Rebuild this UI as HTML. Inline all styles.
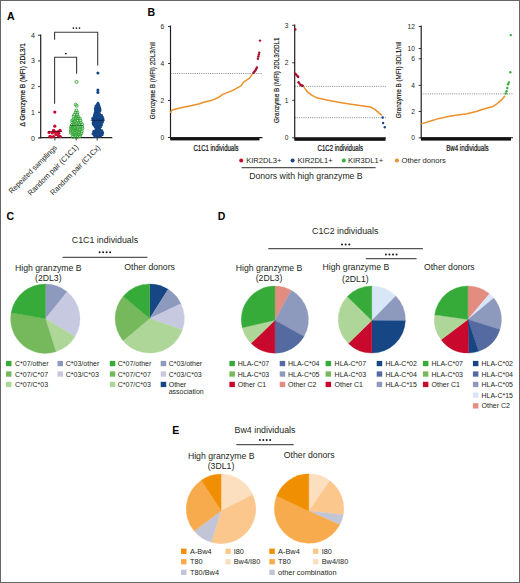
<!DOCTYPE html>
<html><head><meta charset="utf-8"><style>
html,body{margin:0;padding:0;background:#fff;}
body{width:520px;height:583px;overflow:hidden;font-family:"Liberation Sans", sans-serif;}
svg{display:block;}
</style></head><body>
<svg width="520" height="583" viewBox="0 0 520 583" font-family='"Liberation Sans", sans-serif'>
<rect x="0" y="0" width="520" height="583" fill="#fff"/>
<text x="7" y="20" font-size="10.5" text-anchor="start" font-weight="bold" fill="#000" >A</text>
<line x1="40.7" y1="34.5" x2="40.7" y2="138.3" stroke="#231f20" stroke-width="1.2" />
<line x1="39.5" y1="137.7" x2="112.3" y2="137.7" stroke="#231f20" stroke-width="1.3" />
<line x1="38" y1="138.0" x2="40.5" y2="138.0" stroke="#231f20" stroke-width="0.9" />
<text x="34.8" y="140.5" font-size="7.0" text-anchor="end" font-weight="normal" fill="#231f20" >0</text>
<line x1="38" y1="112.3" x2="40.5" y2="112.3" stroke="#231f20" stroke-width="0.9" />
<text x="34.8" y="114.8" font-size="7.0" text-anchor="end" font-weight="normal" fill="#231f20" >1</text>
<line x1="38" y1="86.6" x2="40.5" y2="86.6" stroke="#231f20" stroke-width="0.9" />
<text x="34.8" y="89.1" font-size="7.0" text-anchor="end" font-weight="normal" fill="#231f20" >2</text>
<line x1="38" y1="60.900000000000006" x2="40.5" y2="60.900000000000006" stroke="#231f20" stroke-width="0.9" />
<text x="34.8" y="63.400000000000006" font-size="7.0" text-anchor="end" font-weight="normal" fill="#231f20" >3</text>
<line x1="38" y1="35.2" x2="40.5" y2="35.2" stroke="#231f20" stroke-width="0.9" />
<text x="34.8" y="37.7" font-size="7.0" text-anchor="end" font-weight="normal" fill="#231f20" >4</text>
<line x1="54.9" y1="138.0" x2="54.9" y2="140.5" stroke="#231f20" stroke-width="0.9" />
<line x1="76.2" y1="138.0" x2="76.2" y2="140.5" stroke="#231f20" stroke-width="0.9" />
<line x1="97.2" y1="138.0" x2="97.2" y2="140.5" stroke="#231f20" stroke-width="0.9" />
<text transform="translate(25.2,84.7) rotate(-90)" font-size="7.7" text-anchor="middle" fill="#111" stroke="#111" stroke-width="0.2" textLength="83.5" lengthAdjust="spacingAndGlyphs">Δ Granzyme B (MFI) 2DL3/1</text>
<polyline points="54.6,39.8 54.6,32.3 97.7,32.3 97.7,65.4" fill="none" stroke="#3b3b3b" stroke-width="1.1"/>
<polyline points="54.6,103.8 54.6,57.2 76.6,57.2 76.6,73.8" fill="none" stroke="#3b3b3b" stroke-width="1.1"/>
<circle cx="73.40" cy="28.1" r="0.85" fill="#1a1a1a"/>
<circle cx="76.45" cy="28.1" r="0.85" fill="#1a1a1a"/>
<circle cx="79.50" cy="28.1" r="0.85" fill="#1a1a1a"/>
<circle cx="65.80" cy="53.6" r="0.9" fill="#1a1a1a"/>
<text transform="translate(57.6,148.2) rotate(-45)" font-size="7.7" text-anchor="end" fill="#231f20" textLength="64.8" lengthAdjust="spacingAndGlyphs">Repeated samplings</text>
<text transform="translate(79.0,147.8) rotate(-45)" font-size="7.7" text-anchor="end" fill="#231f20" textLength="68.2" lengthAdjust="spacingAndGlyphs">Random pair (C1C1)</text>
<text transform="translate(100.8,148.2) rotate(-45)" font-size="7.7" text-anchor="end" fill="#231f20" textLength="67.2" lengthAdjust="spacingAndGlyphs">Random pair (C1Cx)</text>
<circle cx="54.8" cy="112.1" r="1.6" fill="#c8082c"/>
<circle cx="54.8" cy="126.2" r="1.6" fill="#c8082c"/>
<circle cx="53.6" cy="130.3" r="1.6" fill="#c8082c"/>
<circle cx="60" cy="130.3" r="1.6" fill="#c8082c"/>
<circle cx="49.1" cy="132.4" r="1.6" fill="#c8082c"/>
<circle cx="52.4" cy="133" r="1.6" fill="#c8082c"/>
<circle cx="56" cy="134.5" r="1.6" fill="#c8082c"/>
<circle cx="50" cy="136.3" r="1.6" fill="#c8082c"/>
<circle cx="53.6" cy="136.5" r="1.6" fill="#c8082c"/>
<circle cx="58.5" cy="135.7" r="1.6" fill="#c8082c"/>
<circle cx="60.3" cy="136.5" r="1.6" fill="#c8082c"/>
<circle cx="51.2" cy="137" r="1.6" fill="#c8082c"/>
<circle cx="57.5" cy="131.8" r="1.6" fill="#c8082c"/>
<circle cx="55" cy="132.2" r="1.6" fill="#c8082c"/>
<circle cx="58.8" cy="133.3" r="1.6" fill="#c8082c"/>
<line x1="48.2" y1="131.5" x2="62.1" y2="131.5" stroke="#5a0a18" stroke-width="0.8" />
<circle cx="76.34" cy="110.38" r="1.4" fill="none" stroke="#30a534" stroke-width="0.95"/>
<circle cx="75.63" cy="112.29" r="1.4" fill="none" stroke="#30a534" stroke-width="0.95"/>
<circle cx="77.43" cy="112.64" r="1.4" fill="none" stroke="#30a534" stroke-width="0.95"/>
<circle cx="74.27" cy="114.81" r="1.4" fill="none" stroke="#30a534" stroke-width="0.95"/>
<circle cx="77.23" cy="114.72" r="1.4" fill="none" stroke="#30a534" stroke-width="0.95"/>
<circle cx="73.60" cy="116.31" r="1.4" fill="none" stroke="#30a534" stroke-width="0.95"/>
<circle cx="76.24" cy="117.19" r="1.4" fill="none" stroke="#30a534" stroke-width="0.95"/>
<circle cx="78.09" cy="116.47" r="1.4" fill="none" stroke="#30a534" stroke-width="0.95"/>
<circle cx="73.57" cy="119.34" r="1.4" fill="none" stroke="#30a534" stroke-width="0.95"/>
<circle cx="75.52" cy="118.68" r="1.4" fill="none" stroke="#30a534" stroke-width="0.95"/>
<circle cx="78.01" cy="118.26" r="1.4" fill="none" stroke="#30a534" stroke-width="0.95"/>
<circle cx="79.88" cy="118.55" r="1.4" fill="none" stroke="#30a534" stroke-width="0.95"/>
<circle cx="72.31" cy="120.34" r="1.4" fill="none" stroke="#30a534" stroke-width="0.95"/>
<circle cx="75.02" cy="121.18" r="1.4" fill="none" stroke="#30a534" stroke-width="0.95"/>
<circle cx="77.37" cy="120.90" r="1.4" fill="none" stroke="#30a534" stroke-width="0.95"/>
<circle cx="80.43" cy="120.65" r="1.4" fill="none" stroke="#30a534" stroke-width="0.95"/>
<circle cx="72.14" cy="122.28" r="1.4" fill="none" stroke="#30a534" stroke-width="0.95"/>
<circle cx="73.76" cy="122.45" r="1.4" fill="none" stroke="#30a534" stroke-width="0.95"/>
<circle cx="76.72" cy="122.71" r="1.4" fill="none" stroke="#30a534" stroke-width="0.95"/>
<circle cx="78.48" cy="122.90" r="1.4" fill="none" stroke="#30a534" stroke-width="0.95"/>
<circle cx="80.86" cy="122.56" r="1.4" fill="none" stroke="#30a534" stroke-width="0.95"/>
<circle cx="71.82" cy="125.04" r="1.4" fill="none" stroke="#30a534" stroke-width="0.95"/>
<circle cx="73.68" cy="124.89" r="1.4" fill="none" stroke="#30a534" stroke-width="0.95"/>
<circle cx="76.53" cy="125.25" r="1.4" fill="none" stroke="#30a534" stroke-width="0.95"/>
<circle cx="79.29" cy="124.55" r="1.4" fill="none" stroke="#30a534" stroke-width="0.95"/>
<circle cx="82.11" cy="124.34" r="1.4" fill="none" stroke="#30a534" stroke-width="0.95"/>
<circle cx="71.07" cy="127.11" r="1.4" fill="none" stroke="#30a534" stroke-width="0.95"/>
<circle cx="72.88" cy="126.79" r="1.4" fill="none" stroke="#30a534" stroke-width="0.95"/>
<circle cx="74.88" cy="127.00" r="1.4" fill="none" stroke="#30a534" stroke-width="0.95"/>
<circle cx="77.88" cy="126.89" r="1.4" fill="none" stroke="#30a534" stroke-width="0.95"/>
<circle cx="80.15" cy="126.58" r="1.4" fill="none" stroke="#30a534" stroke-width="0.95"/>
<circle cx="82.07" cy="126.91" r="1.4" fill="none" stroke="#30a534" stroke-width="0.95"/>
<circle cx="70.96" cy="128.75" r="1.4" fill="none" stroke="#30a534" stroke-width="0.95"/>
<circle cx="73.52" cy="129.33" r="1.4" fill="none" stroke="#30a534" stroke-width="0.95"/>
<circle cx="75.34" cy="129.00" r="1.4" fill="none" stroke="#30a534" stroke-width="0.95"/>
<circle cx="77.10" cy="129.04" r="1.4" fill="none" stroke="#30a534" stroke-width="0.95"/>
<circle cx="80.06" cy="129.39" r="1.4" fill="none" stroke="#30a534" stroke-width="0.95"/>
<circle cx="82.53" cy="128.54" r="1.4" fill="none" stroke="#30a534" stroke-width="0.95"/>
<circle cx="70.91" cy="131.00" r="1.4" fill="none" stroke="#30a534" stroke-width="0.95"/>
<circle cx="72.65" cy="130.75" r="1.4" fill="none" stroke="#30a534" stroke-width="0.95"/>
<circle cx="75.01" cy="130.34" r="1.4" fill="none" stroke="#30a534" stroke-width="0.95"/>
<circle cx="77.06" cy="131.12" r="1.4" fill="none" stroke="#30a534" stroke-width="0.95"/>
<circle cx="79.33" cy="130.50" r="1.4" fill="none" stroke="#30a534" stroke-width="0.95"/>
<circle cx="81.83" cy="131.25" r="1.4" fill="none" stroke="#30a534" stroke-width="0.95"/>
<circle cx="70.84" cy="132.74" r="1.4" fill="none" stroke="#30a534" stroke-width="0.95"/>
<circle cx="73.98" cy="133.26" r="1.4" fill="none" stroke="#30a534" stroke-width="0.95"/>
<circle cx="76.88" cy="133.24" r="1.4" fill="none" stroke="#30a534" stroke-width="0.95"/>
<circle cx="78.81" cy="132.70" r="1.4" fill="none" stroke="#30a534" stroke-width="0.95"/>
<circle cx="81.48" cy="133.26" r="1.4" fill="none" stroke="#30a534" stroke-width="0.95"/>
<circle cx="72.52" cy="134.38" r="1.4" fill="none" stroke="#30a534" stroke-width="0.95"/>
<circle cx="73.81" cy="134.48" r="1.4" fill="none" stroke="#30a534" stroke-width="0.95"/>
<circle cx="76.10" cy="134.78" r="1.4" fill="none" stroke="#30a534" stroke-width="0.95"/>
<circle cx="78.76" cy="134.52" r="1.4" fill="none" stroke="#30a534" stroke-width="0.95"/>
<circle cx="80.28" cy="134.70" r="1.4" fill="none" stroke="#30a534" stroke-width="0.95"/>
<circle cx="72.75" cy="136.88" r="1.4" fill="none" stroke="#30a534" stroke-width="0.95"/>
<circle cx="75.69" cy="137.03" r="1.4" fill="none" stroke="#30a534" stroke-width="0.95"/>
<circle cx="77.40" cy="136.94" r="1.4" fill="none" stroke="#30a534" stroke-width="0.95"/>
<circle cx="79.84" cy="136.26" r="1.4" fill="none" stroke="#30a534" stroke-width="0.95"/>
<circle cx="76.5" cy="81.9" r="1.5" fill="none" stroke="#33a833" stroke-width="0.9"/>
<circle cx="75.7" cy="104.6" r="1.5" fill="none" stroke="#33a833" stroke-width="0.9"/>
<circle cx="76.6" cy="105.8" r="1.5" fill="none" stroke="#33a833" stroke-width="0.9"/>
<line x1="69.6" y1="125.3" x2="83.5" y2="125.3" stroke="#1f5e1f" stroke-width="0.8" />
<circle cx="98.03" cy="103.00" r="1.3" fill="#164684"/>
<circle cx="97.23" cy="104.41" r="1.3" fill="#164684"/>
<circle cx="98.40" cy="104.13" r="1.3" fill="#164684"/>
<circle cx="96.08" cy="105.69" r="1.3" fill="#164684"/>
<circle cx="97.39" cy="105.30" r="1.3" fill="#164684"/>
<circle cx="98.84" cy="105.36" r="1.3" fill="#164684"/>
<circle cx="95.69" cy="106.69" r="1.3" fill="#164684"/>
<circle cx="97.35" cy="106.76" r="1.3" fill="#164684"/>
<circle cx="99.32" cy="106.90" r="1.3" fill="#164684"/>
<circle cx="95.13" cy="108.66" r="1.3" fill="#164684"/>
<circle cx="97.04" cy="108.15" r="1.3" fill="#164684"/>
<circle cx="98.29" cy="108.29" r="1.3" fill="#164684"/>
<circle cx="99.87" cy="108.14" r="1.3" fill="#164684"/>
<circle cx="95.50" cy="110.15" r="1.3" fill="#164684"/>
<circle cx="96.88" cy="109.79" r="1.3" fill="#164684"/>
<circle cx="98.27" cy="109.52" r="1.3" fill="#164684"/>
<circle cx="100.11" cy="109.64" r="1.3" fill="#164684"/>
<circle cx="95.29" cy="110.96" r="1.3" fill="#164684"/>
<circle cx="96.43" cy="111.52" r="1.3" fill="#164684"/>
<circle cx="98.50" cy="110.95" r="1.3" fill="#164684"/>
<circle cx="100.22" cy="110.87" r="1.3" fill="#164684"/>
<circle cx="94.92" cy="112.93" r="1.3" fill="#164684"/>
<circle cx="96.68" cy="112.74" r="1.3" fill="#164684"/>
<circle cx="97.78" cy="112.51" r="1.3" fill="#164684"/>
<circle cx="99.23" cy="112.79" r="1.3" fill="#164684"/>
<circle cx="94.62" cy="114.20" r="1.3" fill="#164684"/>
<circle cx="96.15" cy="113.81" r="1.3" fill="#164684"/>
<circle cx="98.15" cy="114.34" r="1.3" fill="#164684"/>
<circle cx="99.85" cy="114.21" r="1.3" fill="#164684"/>
<circle cx="94.26" cy="115.57" r="1.3" fill="#164684"/>
<circle cx="95.30" cy="115.41" r="1.3" fill="#164684"/>
<circle cx="96.83" cy="115.07" r="1.3" fill="#164684"/>
<circle cx="98.05" cy="115.25" r="1.3" fill="#164684"/>
<circle cx="99.66" cy="115.53" r="1.3" fill="#164684"/>
<circle cx="101.60" cy="115.36" r="1.3" fill="#164684"/>
<circle cx="93.79" cy="117.14" r="1.3" fill="#164684"/>
<circle cx="95.29" cy="116.71" r="1.3" fill="#164684"/>
<circle cx="96.26" cy="116.61" r="1.3" fill="#164684"/>
<circle cx="97.74" cy="116.59" r="1.3" fill="#164684"/>
<circle cx="99.52" cy="117.08" r="1.3" fill="#164684"/>
<circle cx="101.16" cy="116.79" r="1.3" fill="#164684"/>
<circle cx="102.52" cy="117.01" r="1.3" fill="#164684"/>
<circle cx="92.63" cy="118.31" r="1.3" fill="#164684"/>
<circle cx="94.91" cy="118.40" r="1.3" fill="#164684"/>
<circle cx="96.50" cy="118.18" r="1.3" fill="#164684"/>
<circle cx="97.81" cy="118.40" r="1.3" fill="#164684"/>
<circle cx="99.62" cy="118.41" r="1.3" fill="#164684"/>
<circle cx="101.77" cy="118.13" r="1.3" fill="#164684"/>
<circle cx="103.07" cy="118.51" r="1.3" fill="#164684"/>
<circle cx="93.03" cy="119.37" r="1.3" fill="#164684"/>
<circle cx="94.32" cy="119.36" r="1.3" fill="#164684"/>
<circle cx="96.57" cy="119.81" r="1.3" fill="#164684"/>
<circle cx="97.75" cy="119.83" r="1.3" fill="#164684"/>
<circle cx="100.04" cy="119.71" r="1.3" fill="#164684"/>
<circle cx="101.30" cy="119.63" r="1.3" fill="#164684"/>
<circle cx="102.86" cy="119.26" r="1.3" fill="#164684"/>
<circle cx="93.30" cy="121.10" r="1.3" fill="#164684"/>
<circle cx="94.64" cy="121.30" r="1.3" fill="#164684"/>
<circle cx="96.23" cy="121.26" r="1.3" fill="#164684"/>
<circle cx="98.15" cy="120.80" r="1.3" fill="#164684"/>
<circle cx="99.40" cy="120.86" r="1.3" fill="#164684"/>
<circle cx="101.05" cy="121.06" r="1.3" fill="#164684"/>
<circle cx="102.71" cy="120.94" r="1.3" fill="#164684"/>
<circle cx="92.92" cy="122.69" r="1.3" fill="#164684"/>
<circle cx="94.62" cy="122.37" r="1.3" fill="#164684"/>
<circle cx="96.33" cy="122.68" r="1.3" fill="#164684"/>
<circle cx="97.77" cy="122.69" r="1.3" fill="#164684"/>
<circle cx="99.38" cy="122.42" r="1.3" fill="#164684"/>
<circle cx="100.95" cy="122.06" r="1.3" fill="#164684"/>
<circle cx="102.44" cy="122.18" r="1.3" fill="#164684"/>
<circle cx="93.10" cy="124.01" r="1.3" fill="#164684"/>
<circle cx="94.92" cy="123.78" r="1.3" fill="#164684"/>
<circle cx="97.02" cy="123.84" r="1.3" fill="#164684"/>
<circle cx="98.45" cy="123.81" r="1.3" fill="#164684"/>
<circle cx="100.31" cy="124.00" r="1.3" fill="#164684"/>
<circle cx="101.71" cy="123.84" r="1.3" fill="#164684"/>
<circle cx="93.78" cy="125.04" r="1.3" fill="#164684"/>
<circle cx="95.63" cy="125.21" r="1.3" fill="#164684"/>
<circle cx="96.97" cy="125.38" r="1.3" fill="#164684"/>
<circle cx="98.70" cy="125.16" r="1.3" fill="#164684"/>
<circle cx="99.98" cy="125.20" r="1.3" fill="#164684"/>
<circle cx="101.40" cy="125.33" r="1.3" fill="#164684"/>
<circle cx="94.75" cy="126.62" r="1.3" fill="#164684"/>
<circle cx="96.24" cy="126.91" r="1.3" fill="#164684"/>
<circle cx="97.86" cy="126.86" r="1.3" fill="#164684"/>
<circle cx="99.50" cy="126.43" r="1.3" fill="#164684"/>
<circle cx="100.70" cy="126.91" r="1.3" fill="#164684"/>
<circle cx="95.70" cy="127.75" r="1.3" fill="#164684"/>
<circle cx="96.71" cy="127.96" r="1.3" fill="#164684"/>
<circle cx="98.19" cy="127.82" r="1.3" fill="#164684"/>
<circle cx="99.71" cy="128.12" r="1.3" fill="#164684"/>
<circle cx="95.89" cy="129.68" r="1.3" fill="#164684"/>
<circle cx="96.82" cy="129.55" r="1.3" fill="#164684"/>
<circle cx="98.55" cy="129.15" r="1.3" fill="#164684"/>
<circle cx="100.08" cy="129.73" r="1.3" fill="#164684"/>
<circle cx="94.01" cy="131.12" r="1.3" fill="#164684"/>
<circle cx="95.70" cy="130.79" r="1.3" fill="#164684"/>
<circle cx="97.67" cy="131.03" r="1.3" fill="#164684"/>
<circle cx="98.64" cy="130.75" r="1.3" fill="#164684"/>
<circle cx="100.44" cy="130.69" r="1.3" fill="#164684"/>
<circle cx="101.78" cy="130.67" r="1.3" fill="#164684"/>
<circle cx="93.44" cy="131.86" r="1.3" fill="#164684"/>
<circle cx="94.92" cy="132.16" r="1.3" fill="#164684"/>
<circle cx="96.15" cy="132.08" r="1.3" fill="#164684"/>
<circle cx="98.18" cy="132.21" r="1.3" fill="#164684"/>
<circle cx="99.39" cy="132.54" r="1.3" fill="#164684"/>
<circle cx="101.50" cy="132.53" r="1.3" fill="#164684"/>
<circle cx="102.62" cy="132.04" r="1.3" fill="#164684"/>
<circle cx="92.75" cy="133.80" r="1.3" fill="#164684"/>
<circle cx="94.57" cy="133.34" r="1.3" fill="#164684"/>
<circle cx="96.33" cy="133.89" r="1.3" fill="#164684"/>
<circle cx="98.26" cy="133.43" r="1.3" fill="#164684"/>
<circle cx="99.45" cy="133.89" r="1.3" fill="#164684"/>
<circle cx="101.39" cy="133.74" r="1.3" fill="#164684"/>
<circle cx="102.71" cy="133.29" r="1.3" fill="#164684"/>
<circle cx="93.84" cy="134.95" r="1.3" fill="#164684"/>
<circle cx="95.13" cy="135.31" r="1.3" fill="#164684"/>
<circle cx="97.24" cy="135.21" r="1.3" fill="#164684"/>
<circle cx="98.57" cy="135.25" r="1.3" fill="#164684"/>
<circle cx="100.28" cy="135.25" r="1.3" fill="#164684"/>
<circle cx="102.27" cy="134.89" r="1.3" fill="#164684"/>
<circle cx="94.70" cy="136.70" r="1.3" fill="#164684"/>
<circle cx="96.05" cy="136.14" r="1.3" fill="#164684"/>
<circle cx="97.79" cy="136.22" r="1.3" fill="#164684"/>
<circle cx="99.04" cy="136.16" r="1.3" fill="#164684"/>
<circle cx="100.55" cy="136.19" r="1.3" fill="#164684"/>
<circle cx="97.9" cy="73.0" r="1.55" fill="#164684"/>
<circle cx="97.9" cy="90.1" r="1.55" fill="#164684"/>
<circle cx="97.9" cy="92.4" r="1.55" fill="#164684"/>
<line x1="90.8" y1="120.3" x2="104.9" y2="120.3" stroke="#0a1a40" stroke-width="0.8" />
<text x="147.5" y="15.5" font-size="10.5" text-anchor="start" font-weight="bold" fill="#000" >B</text>
<line x1="170.5" y1="73.5" x2="262.5" y2="73.5" stroke="#666" stroke-width="0.8" stroke-dasharray="1,1.2"/>
<line x1="170.5" y1="25.5" x2="170.5" y2="138.6" stroke="#231f20" stroke-width="1.2" />
<rect x="170.2" y="137.0" width="89.3" height="3.4" fill="#111"/>
<line x1="170.5" y1="137.6" x2="262.5" y2="137.6" stroke="#231f20" stroke-width="1.1" />
<line x1="168.0" y1="26.5" x2="170.5" y2="26.5" stroke="#231f20" stroke-width="0.9" />
<text x="0" y="0" transform="translate(164.3,29.0) scale(0.95,1)" font-size="7.0" text-anchor="end" font-weight="normal" fill="#231f20">6</text>
<line x1="168.0" y1="63.5" x2="170.5" y2="63.5" stroke="#231f20" stroke-width="0.9" />
<text x="0" y="0" transform="translate(164.3,66.0) scale(0.95,1)" font-size="7.0" text-anchor="end" font-weight="normal" fill="#231f20">4</text>
<line x1="168.0" y1="100.5" x2="170.5" y2="100.5" stroke="#231f20" stroke-width="0.9" />
<text x="0" y="0" transform="translate(164.3,103.0) scale(0.95,1)" font-size="7.0" text-anchor="end" font-weight="normal" fill="#231f20">2</text>
<line x1="168.0" y1="137.5" x2="170.5" y2="137.5" stroke="#231f20" stroke-width="0.9" />
<text x="0" y="0" transform="translate(164.3,140.0) scale(0.95,1)" font-size="7.0" text-anchor="end" font-weight="normal" fill="#231f20">0</text>
<text transform="translate(154.9,80.6) rotate(-90)" font-size="7.6" text-anchor="middle" fill="#111" stroke="#111" stroke-width="0.15" textLength="77.2" lengthAdjust="spacingAndGlyphs">Granzyme B (MFI) 2DL3/nil</text>
<polyline points="170.6,112.9 171.5,110.5 173.7,109.4 182.3,107.5 191.9,105.4 199.6,103.7 203.5,102.3 211.2,100.6 218.8,97.3 222.7,94.4 232.3,90.6 241.0,85.8 243.8,81.9 249.6,78.1 252.5,73.8" fill="none" stroke="#eb902a" stroke-width="1.5" stroke-linejoin="round"/>
<circle cx="253.5" cy="72.7" r="1.2" fill="#a50d2b"/>
<circle cx="254.5" cy="71.5" r="1.2" fill="#a50d2b"/>
<circle cx="255.4" cy="70.4" r="1.2" fill="#a50d2b"/>
<circle cx="256.2" cy="69" r="1.2" fill="#a50d2b"/>
<circle cx="256.9" cy="67.5" r="1.2" fill="#a50d2b"/>
<circle cx="257.9" cy="58.8" r="1.2" fill="#a50d2b"/>
<circle cx="258.4" cy="56.5" r="1.2" fill="#a50d2b"/>
<circle cx="258.8" cy="54.6" r="1.2" fill="#a50d2b"/>
<circle cx="259.2" cy="52.7" r="1.2" fill="#a50d2b"/>
<circle cx="260" cy="40.6" r="1.2" fill="#a50d2b"/>
<text x="216" y="151.0" font-size="8.4" text-anchor="middle" fill="#111" stroke="#111" stroke-width="0.22" textLength="45" lengthAdjust="spacingAndGlyphs">C1C1 individuals</text>
<line x1="294.7" y1="86.4" x2="386.0" y2="86.4" stroke="#666" stroke-width="0.8" stroke-dasharray="1,1.2"/>
<line x1="294.7" y1="117.7" x2="386.0" y2="117.7" stroke="#666" stroke-width="0.8" stroke-dasharray="1,1.2"/>
<line x1="294.7" y1="24.5" x2="294.7" y2="139.0" stroke="#231f20" stroke-width="1.2" />
<rect x="294.4" y="137.4" width="91.10000000000001" height="3.4" fill="#111"/>
<line x1="294.7" y1="138.0" x2="386.0" y2="138.0" stroke="#231f20" stroke-width="1.1" />
<line x1="292.2" y1="25.3" x2="294.7" y2="25.3" stroke="#231f20" stroke-width="0.9" />
<text x="0" y="0" transform="translate(288.5,27.8) scale(0.95,1)" font-size="7.0" text-anchor="end" font-weight="normal" fill="#231f20">3</text>
<line x1="292.2" y1="62.8" x2="294.7" y2="62.8" stroke="#231f20" stroke-width="0.9" />
<text x="0" y="0" transform="translate(288.5,65.3) scale(0.95,1)" font-size="7.0" text-anchor="end" font-weight="normal" fill="#231f20">2</text>
<line x1="292.2" y1="100.3" x2="294.7" y2="100.3" stroke="#231f20" stroke-width="0.9" />
<text x="0" y="0" transform="translate(288.5,102.8) scale(0.95,1)" font-size="7.0" text-anchor="end" font-weight="normal" fill="#231f20">1</text>
<line x1="292.2" y1="137.8" x2="294.7" y2="137.8" stroke="#231f20" stroke-width="0.9" />
<text x="0" y="0" transform="translate(288.5,140.3) scale(0.95,1)" font-size="7.0" text-anchor="end" font-weight="normal" fill="#231f20">0</text>
<text transform="translate(278.5,80.2) rotate(-90)" font-size="7.6" text-anchor="middle" fill="#111" stroke="#111" stroke-width="0.15" textLength="85.5" lengthAdjust="spacingAndGlyphs">Granzyme B (MFI) 2DL3/2DL1</text>
<polyline points="303.8,87.1 306.9,91.3 311.2,94.9 317.5,98.1 328.0,100.2 338.7,102.3 349.2,104.0 359.8,105.5 370.4,107.0 374.6,109.1 378.9,112.9 382.0,115.4" fill="none" stroke="#eb902a" stroke-width="1.5" stroke-linejoin="round"/>
<circle cx="295.3" cy="29.5" r="1.2" fill="#a50d2b"/>
<circle cx="295.3" cy="73.8" r="1.2" fill="#a50d2b"/>
<circle cx="296.3" cy="74.8" r="1.2" fill="#a50d2b"/>
<circle cx="297.4" cy="75.9" r="1.2" fill="#a50d2b"/>
<circle cx="298.2" cy="77" r="1.2" fill="#a50d2b"/>
<circle cx="298.5" cy="82.2" r="1.2" fill="#a50d2b"/>
<circle cx="299.5" cy="83.6" r="1.2" fill="#a50d2b"/>
<circle cx="300.6" cy="85" r="1.2" fill="#a50d2b"/>
<circle cx="301.7" cy="85.5" r="1.2" fill="#a50d2b"/>
<circle cx="302.7" cy="85.8" r="1.2" fill="#a50d2b"/>
<circle cx="382.7" cy="117.5" r="1.2" fill="#164684"/>
<circle cx="383.1" cy="123" r="1.2" fill="#164684"/>
<circle cx="384.8" cy="127.3" r="1.2" fill="#164684"/>
<text x="340.3" y="151.0" font-size="8.4" text-anchor="middle" fill="#111" stroke="#111" stroke-width="0.22" textLength="45.5" lengthAdjust="spacingAndGlyphs">C1C2 individuals</text>
<line x1="421.2" y1="93.9" x2="513" y2="93.9" stroke="#666" stroke-width="0.8" stroke-dasharray="1,1.2"/>
<line x1="421.2" y1="25.5" x2="421.2" y2="138.8" stroke="#231f20" stroke-width="1.2" />
<rect x="420.9" y="137.20000000000002" width="90.10000000000001" height="3.4" fill="#111"/>
<line x1="421.2" y1="137.8" x2="513" y2="137.8" stroke="#231f20" stroke-width="1.1" />
<line x1="418.7" y1="26.5" x2="421.2" y2="26.5" stroke="#231f20" stroke-width="0.9" />
<text x="0" y="0" transform="translate(415.0,29.0) scale(0.95,1)" font-size="7.0" text-anchor="end" font-weight="normal" fill="#231f20">12</text>
<line x1="418.7" y1="48.5" x2="421.2" y2="48.5" stroke="#231f20" stroke-width="0.9" />
<text x="0" y="0" transform="translate(415.0,51.0) scale(0.95,1)" font-size="7.0" text-anchor="end" font-weight="normal" fill="#231f20">10</text>
<line x1="418.7" y1="58.8" x2="421.2" y2="58.8" stroke="#231f20" stroke-width="0.9" />
<text x="0" y="0" transform="translate(415.0,61.3) scale(0.95,1)" font-size="7.0" text-anchor="end" font-weight="normal" fill="#231f20">6</text>
<line x1="418.7" y1="85.4" x2="421.2" y2="85.4" stroke="#231f20" stroke-width="0.9" />
<text x="0" y="0" transform="translate(415.0,87.9) scale(0.95,1)" font-size="7.0" text-anchor="end" font-weight="normal" fill="#231f20">4</text>
<line x1="418.7" y1="111.5" x2="421.2" y2="111.5" stroke="#231f20" stroke-width="0.9" />
<text x="0" y="0" transform="translate(415.0,114.0) scale(0.95,1)" font-size="7.0" text-anchor="end" font-weight="normal" fill="#231f20">2</text>
<line x1="418.7" y1="137.8" x2="421.2" y2="137.8" stroke="#231f20" stroke-width="0.9" />
<text x="0" y="0" transform="translate(415.0,140.3) scale(0.95,1)" font-size="7.0" text-anchor="end" font-weight="normal" fill="#231f20">0</text>
<text transform="translate(400.8,80.0) rotate(-90)" font-size="7.6" text-anchor="middle" fill="#111" stroke="#111" stroke-width="0.15" textLength="76.7" lengthAdjust="spacingAndGlyphs">Granzyme B (MFI) 3DL1/nil</text>
<polyline points="421.2,123.9 430.0,121.2 439.2,118.4 450.8,116.1 466.9,113.8 476.2,111.5 485.4,108.5 492.3,106.8 496.9,103.8 501.5,99.9 505.0,95.8" fill="none" stroke="#eb902a" stroke-width="1.5" stroke-linejoin="round"/>
<circle cx="505.7" cy="93.5" r="1.2" fill="#3aab3a"/>
<circle cx="506.6" cy="91.2" r="1.2" fill="#3aab3a"/>
<circle cx="507.3" cy="88" r="1.2" fill="#3aab3a"/>
<circle cx="508" cy="84.2" r="1.2" fill="#3aab3a"/>
<circle cx="508.9" cy="82.4" r="1.2" fill="#3aab3a"/>
<circle cx="510.3" cy="72.2" r="1.2" fill="#3aab3a"/>
<circle cx="510.8" cy="35.1" r="1.2" fill="#3aab3a"/>
<text x="467.4" y="151.0" font-size="8.4" text-anchor="middle" fill="#111" stroke="#111" stroke-width="0.22" textLength="42.5" lengthAdjust="spacingAndGlyphs">Bw4 individuals</text>
<circle cx="241.2" cy="160.6" r="2.0" fill="#c8082c"/>
<text x="246.2" y="163.2" font-size="7.6" text-anchor="start" font-weight="normal" fill="#231f20" >KIR2DL3+</text>
<circle cx="292.6" cy="160.6" r="2.0" fill="#164684"/>
<text x="297.5" y="163.2" font-size="7.6" text-anchor="start" font-weight="normal" fill="#231f20" >KIR2DL1+</text>
<circle cx="343.8" cy="160.6" r="2.0" fill="#3aab3a"/>
<text x="347.9" y="163.2" font-size="7.6" text-anchor="start" font-weight="normal" fill="#231f20" >KIR3DL1+</text>
<circle cx="396.9" cy="160.6" r="2.0" fill="#eb902a"/>
<text x="401.5" y="163.2" font-size="7.6" text-anchor="start" font-weight="normal" fill="#231f20" >Other donors</text>
<line x1="241.6" y1="167.6" x2="375.6" y2="167.6" stroke="#555" stroke-width="1.2" />
<text x="249.2" y="178.6" font-size="8.7" text-anchor="start" font-weight="normal" fill="#231f20" >Donors with high granzyme B</text>
<text x="6.5" y="219.8" font-size="10.5" text-anchor="start" font-weight="bold" fill="#000" >C</text>
<text x="71.8" y="242.5" font-size="8.85" text-anchor="start" font-weight="normal" fill="#231f20" >C1C1 individuals</text>
<circle cx="99.60" cy="252.2" r="1.0" fill="#1a1a1a"/>
<circle cx="103.10" cy="252.2" r="1.0" fill="#1a1a1a"/>
<circle cx="106.60" cy="252.2" r="1.0" fill="#1a1a1a"/>
<circle cx="110.10" cy="252.2" r="1.0" fill="#1a1a1a"/>
<line x1="62.6" y1="257.3" x2="147.4" y2="257.3" stroke="#555" stroke-width="1.2" />
<text x="48.3" y="270.8" font-size="8.7" text-anchor="middle" font-weight="normal" fill="#231f20" >High granzyme B</text>
<text x="48.3" y="280.9" font-size="8.7" text-anchor="middle" font-weight="normal" fill="#231f20" >(2DL3)</text>
<text x="149.6" y="270.3" font-size="8.7" text-anchor="middle" font-weight="normal" fill="#231f20" >Other donors</text>
<path d="M45.50,318.80 L45.50,284.00 A34.7,34.7 0 0 1 67.21,291.79 Z" fill="#8e9abd" stroke="#8e9abd" stroke-width="0.3"/>
<path d="M45.50,318.80 L67.21,291.79 A34.7,34.7 0 0 1 75.05,336.56 Z" fill="#c6c9df" stroke="#c6c9df" stroke-width="0.3"/>
<path d="M45.50,318.80 L75.05,336.56 A34.7,34.7 0 0 1 55.89,351.75 Z" fill="#afd699" stroke="#afd699" stroke-width="0.3"/>
<path d="M45.50,318.80 L55.89,351.75 A34.7,34.7 0 0 1 11.10,312.86 Z" fill="#76b95c" stroke="#76b95c" stroke-width="0.3"/>
<path d="M45.50,318.80 L11.10,312.86 A34.7,34.7 0 0 1 45.50,284.00 Z" fill="#36ab39" stroke="#36ab39" stroke-width="0.3"/>
<path d="M149.70,318.50 L149.70,283.90 A34.6,34.6 0 0 1 168.19,289.25 Z" fill="#164684" stroke="#164684" stroke-width="0.3"/>
<path d="M149.70,318.50 L168.19,289.25 A34.6,34.6 0 0 1 180.96,303.66 Z" fill="#8e9abd" stroke="#8e9abd" stroke-width="0.3"/>
<path d="M149.70,318.50 L180.96,303.66 A34.6,34.6 0 0 1 182.32,330.05 Z" fill="#c6c9df" stroke="#c6c9df" stroke-width="0.3"/>
<path d="M149.70,318.50 L182.32,330.05 A34.6,34.6 0 0 1 123.12,340.65 Z" fill="#afd699" stroke="#afd699" stroke-width="0.3"/>
<path d="M149.70,318.50 L123.12,340.65 A34.6,34.6 0 0 1 123.12,296.35 Z" fill="#76b95c" stroke="#76b95c" stroke-width="0.3"/>
<path d="M149.70,318.50 L123.12,296.35 A34.6,34.6 0 0 1 149.70,283.90 Z" fill="#36ab39" stroke="#36ab39" stroke-width="0.3"/>
<rect x="6.0" y="360.9" width="5.5" height="5.3" fill="#36ab39"/>
<text x="15" y="366.0" font-size="7.0" text-anchor="start" font-weight="normal" fill="#231f20" >C*07/other</text>
<rect x="6.0" y="371.4" width="5.5" height="5.3" fill="#76b95c"/>
<text x="15" y="376.5" font-size="7.0" text-anchor="start" font-weight="normal" fill="#231f20" >C*07/C*07</text>
<rect x="6.0" y="381.79999999999995" width="5.5" height="5.3" fill="#afd699"/>
<text x="15" y="386.9" font-size="7.0" text-anchor="start" font-weight="normal" fill="#231f20" >C*07/C*03</text>
<rect x="57.5" y="360.9" width="5.5" height="5.3" fill="#8e9abd"/>
<text x="65.8" y="366.0" font-size="7.0" text-anchor="start" font-weight="normal" fill="#231f20" >C*03/other</text>
<rect x="57.5" y="371.4" width="5.5" height="5.3" fill="#c6c9df"/>
<text x="65.8" y="376.5" font-size="7.0" text-anchor="start" font-weight="normal" fill="#231f20" >C*03/C*03</text>
<rect x="109.8" y="360.9" width="5.5" height="5.3" fill="#36ab39"/>
<text x="117.8" y="366.0" font-size="7.0" text-anchor="start" font-weight="normal" fill="#231f20" >C*07/other</text>
<rect x="109.8" y="371.4" width="5.5" height="5.3" fill="#76b95c"/>
<text x="117.8" y="376.5" font-size="7.0" text-anchor="start" font-weight="normal" fill="#231f20" >C*07/C*07</text>
<rect x="109.8" y="381.79999999999995" width="5.5" height="5.3" fill="#afd699"/>
<text x="117.8" y="386.9" font-size="7.0" text-anchor="start" font-weight="normal" fill="#231f20" >C*07/C*03</text>
<rect x="160.70000000000002" y="360.9" width="5.5" height="5.3" fill="#8e9abd"/>
<text x="168.7" y="366.0" font-size="7.0" text-anchor="start" font-weight="normal" fill="#231f20" >C*03/other</text>
<rect x="160.70000000000002" y="371.4" width="5.5" height="5.3" fill="#c6c9df"/>
<text x="168.7" y="376.5" font-size="7.0" text-anchor="start" font-weight="normal" fill="#231f20" >C*03/C*03</text>
<rect x="160.70000000000002" y="381.79999999999995" width="5.5" height="5.3" fill="#164684"/>
<text x="168.7" y="386.9" font-size="7.0" text-anchor="start" font-weight="normal" fill="#231f20" >Other</text>
<text x="168.7" y="393.8" font-size="7.0" text-anchor="start" font-weight="normal" fill="#231f20" >association</text>
<text x="217.8" y="220.0" font-size="10.5" text-anchor="start" font-weight="bold" fill="#000" >D</text>
<text x="312.0" y="233.8" font-size="8.85" text-anchor="start" font-weight="normal" fill="#231f20" >C1C2 individuals</text>
<circle cx="342.00" cy="244.5" r="1.0" fill="#1a1a1a"/>
<circle cx="345.65" cy="244.5" r="1.0" fill="#1a1a1a"/>
<circle cx="349.30" cy="244.5" r="1.0" fill="#1a1a1a"/>
<line x1="268.3" y1="248.6" x2="422.9" y2="248.6" stroke="#555" stroke-width="1.2" />
<circle cx="385.89" cy="254.6" r="1.0" fill="#1a1a1a"/>
<circle cx="389.46" cy="254.6" r="1.0" fill="#1a1a1a"/>
<circle cx="393.03" cy="254.6" r="1.0" fill="#1a1a1a"/>
<circle cx="396.60" cy="254.6" r="1.0" fill="#1a1a1a"/>
<line x1="365.8" y1="258.6" x2="416.6" y2="258.6" stroke="#555" stroke-width="1.2" />
<text x="269.1" y="270.5" font-size="8.7" text-anchor="middle" font-weight="normal" fill="#231f20" >High granzyme B</text>
<text x="269.0" y="280.9" font-size="8.7" text-anchor="middle" font-weight="normal" fill="#231f20" >(2DL3)</text>
<text x="355.9" y="270.4" font-size="8.7" text-anchor="middle" font-weight="normal" fill="#231f20" >High granzyme B</text>
<text x="355.4" y="281.5" font-size="8.7" text-anchor="middle" font-weight="normal" fill="#231f20" >(2DL1)</text>
<text x="449.3" y="270.4" font-size="8.7" text-anchor="middle" font-weight="normal" fill="#231f20" >Other donors</text>
<path d="M274.90,320.20 L274.90,286.00 A33.6,33.6 0 0 1 291.34,290.30 Z" fill="#e38d80" stroke="#e38d80" stroke-width="0.3"/>
<path d="M274.90,320.20 L291.34,290.30 A33.6,33.6 0 0 1 304.00,336.40 Z" fill="#8e9abd" stroke="#8e9abd" stroke-width="0.3"/>
<path d="M274.90,320.20 L304.00,336.40 A33.6,33.6 0 0 1 274.90,353.20 Z" fill="#556aa0" stroke="#556aa0" stroke-width="0.3"/>
<path d="M274.90,320.20 L274.90,353.20 A33.6,33.6 0 0 1 251.03,343.25 Z" fill="#c8082c" stroke="#c8082c" stroke-width="0.3"/>
<path d="M274.90,320.20 L251.03,343.25 A33.6,33.6 0 0 1 242.28,327.67 Z" fill="#afd699" stroke="#afd699" stroke-width="0.3"/>
<path d="M274.90,320.20 L242.28,327.67 A33.6,33.6 0 0 1 274.90,286.00 Z" fill="#36ab39" stroke="#36ab39" stroke-width="0.3"/>
<path d="M371.80,320.60 L371.80,285.90 A33.6,33.6 0 0 1 395.77,295.95 Z" fill="#d8e6f7" stroke="#d8e6f7" stroke-width="0.3"/>
<path d="M371.80,320.60 L395.77,295.95 A33.6,33.6 0 0 1 405.38,320.72 Z" fill="#8e9abd" stroke="#8e9abd" stroke-width="0.3"/>
<path d="M371.80,320.60 L405.38,320.72 A33.6,33.6 0 0 1 371.80,353.10 Z" fill="#164684" stroke="#164684" stroke-width="0.3"/>
<path d="M371.80,320.60 L371.80,353.10 A33.6,33.6 0 0 1 348.27,343.48 Z" fill="#c8082c" stroke="#c8082c" stroke-width="0.3"/>
<path d="M371.80,320.60 L348.27,343.48 A33.6,33.6 0 0 1 347.29,296.52 Z" fill="#afd699" stroke="#afd699" stroke-width="0.3"/>
<path d="M371.80,320.60 L347.29,296.52 A33.6,33.6 0 0 1 371.80,285.90 Z" fill="#36ab39" stroke="#36ab39" stroke-width="0.3"/>
<path d="M467.90,319.50 L467.90,285.90 A33.6,33.6 0 0 1 489.50,293.76 Z" fill="#e38d80" stroke="#e38d80" stroke-width="0.3"/>
<path d="M467.90,319.50 L489.50,293.76 A33.6,33.6 0 0 1 493.79,298.08 Z" fill="#d8e6f7" stroke="#d8e6f7" stroke-width="0.3"/>
<path d="M467.90,319.50 L493.79,298.08 A33.6,33.6 0 0 1 499.96,329.55 Z" fill="#8e9abd" stroke="#8e9abd" stroke-width="0.3"/>
<path d="M467.90,319.50 L499.96,329.55 A33.6,33.6 0 0 1 478.56,351.36 Z" fill="#556aa0" stroke="#556aa0" stroke-width="0.3"/>
<path d="M467.90,319.50 L478.56,351.36 A33.6,33.6 0 0 1 468.60,353.09 Z" fill="#164684" stroke="#164684" stroke-width="0.3"/>
<path d="M467.90,319.50 L468.60,353.09 A33.6,33.6 0 0 1 441.07,339.72 Z" fill="#c8082c" stroke="#c8082c" stroke-width="0.3"/>
<path d="M467.90,319.50 L441.07,339.72 A33.6,33.6 0 0 1 434.64,314.71 Z" fill="#afd699" stroke="#afd699" stroke-width="0.3"/>
<path d="M467.90,319.50 L434.64,314.71 A33.6,33.6 0 0 1 467.90,285.90 Z" fill="#36ab39" stroke="#36ab39" stroke-width="0.3"/>
<rect x="229.4" y="360.9" width="5.5" height="5.3" fill="#36ab39"/>
<text x="237.7" y="366.0" font-size="7.0" text-anchor="start" font-weight="normal" fill="#231f20" >HLA-C*07</text>
<rect x="229.4" y="371.4" width="5.5" height="5.3" fill="#76b95c"/>
<text x="237.7" y="376.5" font-size="7.0" text-anchor="start" font-weight="normal" fill="#231f20" >HLA-C*03</text>
<rect x="229.4" y="381.79999999999995" width="5.5" height="5.3" fill="#c8082c"/>
<text x="237.7" y="386.9" font-size="7.0" text-anchor="start" font-weight="normal" fill="#231f20" >Other C1</text>
<rect x="279.7" y="360.9" width="5.5" height="5.3" fill="#556aa0"/>
<text x="288.0" y="366.0" font-size="7.0" text-anchor="start" font-weight="normal" fill="#231f20" >HLA-C*04</text>
<rect x="279.7" y="371.4" width="5.5" height="5.3" fill="#8e9abd"/>
<text x="288.0" y="376.5" font-size="7.0" text-anchor="start" font-weight="normal" fill="#231f20" >HLA-C*05</text>
<rect x="279.7" y="381.79999999999995" width="5.5" height="5.3" fill="#e38d80"/>
<text x="288.0" y="386.9" font-size="7.0" text-anchor="start" font-weight="normal" fill="#231f20" >Other C2</text>
<rect x="325.6" y="360.9" width="5.5" height="5.3" fill="#36ab39"/>
<text x="334.6" y="366.0" font-size="7.0" text-anchor="start" font-weight="normal" fill="#231f20" >HLA-C*07</text>
<rect x="325.6" y="371.4" width="5.5" height="5.3" fill="#76b95c"/>
<text x="334.6" y="376.5" font-size="7.0" text-anchor="start" font-weight="normal" fill="#231f20" >HLA-C*03</text>
<rect x="325.6" y="381.79999999999995" width="5.5" height="5.3" fill="#c8082c"/>
<text x="334.6" y="386.9" font-size="7.0" text-anchor="start" font-weight="normal" fill="#231f20" >Other C1</text>
<rect x="376.7" y="360.9" width="5.5" height="5.3" fill="#164684"/>
<text x="385.4" y="366.0" font-size="7.0" text-anchor="start" font-weight="normal" fill="#231f20" >HLA-C*02</text>
<rect x="376.7" y="371.4" width="5.5" height="5.3" fill="#556aa0"/>
<text x="385.4" y="376.5" font-size="7.0" text-anchor="start" font-weight="normal" fill="#231f20" >HLA-C*04</text>
<rect x="376.7" y="381.79999999999995" width="5.5" height="5.3" fill="#8e9abd"/>
<text x="385.4" y="386.9" font-size="7.0" text-anchor="start" font-weight="normal" fill="#231f20" >HLA-C*15</text>
<rect x="422.90000000000003" y="360.9" width="5.5" height="5.3" fill="#36ab39"/>
<text x="431.5" y="366.0" font-size="7.0" text-anchor="start" font-weight="normal" fill="#231f20" >HLA-C*07</text>
<rect x="422.90000000000003" y="371.4" width="5.5" height="5.3" fill="#76b95c"/>
<text x="431.5" y="376.5" font-size="7.0" text-anchor="start" font-weight="normal" fill="#231f20" >HLA-C*03</text>
<rect x="422.90000000000003" y="381.79999999999995" width="5.5" height="5.3" fill="#c8082c"/>
<text x="431.5" y="386.9" font-size="7.0" text-anchor="start" font-weight="normal" fill="#231f20" >Other C1</text>
<rect x="472.90000000000003" y="360.9" width="5.5" height="5.3" fill="#164684"/>
<text x="481.5" y="366.0" font-size="7.0" text-anchor="start" font-weight="normal" fill="#231f20" >HLA-C*02</text>
<rect x="472.90000000000003" y="371.4" width="5.5" height="5.3" fill="#556aa0"/>
<text x="481.5" y="376.5" font-size="7.0" text-anchor="start" font-weight="normal" fill="#231f20" >HLA-C*04</text>
<rect x="472.90000000000003" y="381.79999999999995" width="5.5" height="5.3" fill="#8e9abd"/>
<text x="481.5" y="386.9" font-size="7.0" text-anchor="start" font-weight="normal" fill="#231f20" >HLA-C*05</text>
<rect x="472.90000000000003" y="392.5" width="5.5" height="5.3" fill="#d8e6f7"/>
<text x="481.5" y="397.6" font-size="7.0" text-anchor="start" font-weight="normal" fill="#231f20" >HLA-C*15</text>
<rect x="472.90000000000003" y="403.2" width="5.5" height="5.3" fill="#e38d80"/>
<text x="481.5" y="408.3" font-size="7.0" text-anchor="start" font-weight="normal" fill="#231f20" >Other C2</text>
<text x="172.3" y="433.8" font-size="10.5" text-anchor="start" font-weight="bold" fill="#000" >E</text>
<text x="234.5" y="432.5" font-size="8.85" text-anchor="start" font-weight="normal" fill="#231f20" >Bw4 individuals</text>
<circle cx="259.90" cy="440.1" r="1.0" fill="#1a1a1a"/>
<circle cx="263.30" cy="440.1" r="1.0" fill="#1a1a1a"/>
<circle cx="266.70" cy="440.1" r="1.0" fill="#1a1a1a"/>
<circle cx="270.10" cy="440.1" r="1.0" fill="#1a1a1a"/>
<line x1="236.3" y1="444.6" x2="293.7" y2="444.6" stroke="#555" stroke-width="1.2" />
<text x="221.2" y="458.8" font-size="8.7" text-anchor="middle" font-weight="normal" fill="#231f20" >High granzyme B</text>
<text x="221.0" y="468.9" font-size="8.7" text-anchor="middle" font-weight="normal" fill="#231f20" >(3DL1)</text>
<text x="309.2" y="458.2" font-size="8.7" text-anchor="middle" font-weight="normal" fill="#231f20" >Other donors</text>
<path d="M221.10,510.70 L221.10,474.10 A34.8,34.8 0 0 1 252.80,494.76 Z" fill="#fcdfbf" stroke="#fcdfbf" stroke-width="0.3"/>
<path d="M221.10,510.70 L252.80,494.76 A34.8,34.8 0 0 1 211.31,542.32 Z" fill="#fcc78c" stroke="#fcc78c" stroke-width="0.3"/>
<path d="M221.10,510.70 L211.31,542.32 A34.8,34.8 0 0 1 194.21,531.11 Z" fill="#c2c5d6" stroke="#c2c5d6" stroke-width="0.3"/>
<path d="M221.10,510.70 L194.21,531.11 A34.8,34.8 0 0 1 201.41,480.14 Z" fill="#f7ab4c" stroke="#f7ab4c" stroke-width="0.3"/>
<path d="M221.10,510.70 L201.41,480.14 A34.8,34.8 0 0 1 221.10,474.10 Z" fill="#f08f02" stroke="#f08f02" stroke-width="0.3"/>
<path d="M308.80,511.10 L308.80,473.80 A34.8,34.8 0 0 1 329.83,480.72 Z" fill="#fcdfbf" stroke="#fcdfbf" stroke-width="0.3"/>
<path d="M308.80,511.10 L329.83,480.72 A34.8,34.8 0 0 1 343.27,514.66 Z" fill="#fcc78c" stroke="#fcc78c" stroke-width="0.3"/>
<path d="M308.80,511.10 L343.27,514.66 A34.8,34.8 0 0 1 339.78,524.83 Z" fill="#c2c5d6" stroke="#c2c5d6" stroke-width="0.3"/>
<path d="M308.80,511.10 L339.78,524.83 A34.8,34.8 0 0 1 276.61,495.88 Z" fill="#f7ab4c" stroke="#f7ab4c" stroke-width="0.3"/>
<path d="M308.80,511.10 L276.61,495.88 A34.8,34.8 0 0 1 308.80,473.80 Z" fill="#f08f02" stroke="#f08f02" stroke-width="0.3"/>
<rect x="181.0" y="548.6" width="5.5" height="5.3" fill="#f08f02"/>
<text x="190" y="553.7" font-size="7.35" text-anchor="start" font-weight="normal" fill="#231f20" >A-Bw4</text>
<rect x="181.0" y="559.1" width="5.5" height="5.3" fill="#f7ab4c"/>
<text x="190" y="564.2" font-size="7.35" text-anchor="start" font-weight="normal" fill="#231f20" >T80</text>
<rect x="181.0" y="569.6999999999999" width="5.5" height="5.3" fill="#c2c5d6"/>
<text x="190" y="574.8" font-size="7.35" text-anchor="start" font-weight="normal" fill="#231f20" >T80/Bw4</text>
<rect x="225.4" y="548.6" width="5.5" height="5.3" fill="#fcc78c"/>
<text x="233.7" y="553.7" font-size="7.35" text-anchor="start" font-weight="normal" fill="#231f20" >I80</text>
<rect x="225.4" y="559.1" width="5.5" height="5.3" fill="#fcdfbf"/>
<text x="233.7" y="564.2" font-size="7.35" text-anchor="start" font-weight="normal" fill="#231f20" >Bw4/I80</text>
<rect x="269.3" y="548.6" width="5.5" height="5.3" fill="#f08f02"/>
<text x="278.1" y="553.7" font-size="7.35" text-anchor="start" font-weight="normal" fill="#231f20" >A-Bw4</text>
<rect x="269.3" y="559.1" width="5.5" height="5.3" fill="#f7ab4c"/>
<text x="278.1" y="564.2" font-size="7.35" text-anchor="start" font-weight="normal" fill="#231f20" >T80</text>
<rect x="269.3" y="569.6999999999999" width="5.5" height="5.3" fill="#c2c5d6"/>
<text x="278.1" y="574.8" font-size="7.35" text-anchor="start" font-weight="normal" fill="#231f20" >other combination</text>
<rect x="312.90000000000003" y="548.6" width="5.5" height="5.3" fill="#fcc78c"/>
<text x="321.7" y="553.7" font-size="7.35" text-anchor="start" font-weight="normal" fill="#231f20" >I80</text>
<rect x="312.90000000000003" y="559.1" width="5.5" height="5.3" fill="#fcdfbf"/>
<text x="321.7" y="564.2" font-size="7.35" text-anchor="start" font-weight="normal" fill="#231f20" >Bw4/I80</text>
<rect x="0.5" y="0.5" width="519" height="582" fill="none" stroke="#666" stroke-width="1"/>
</svg>
</body></html>
